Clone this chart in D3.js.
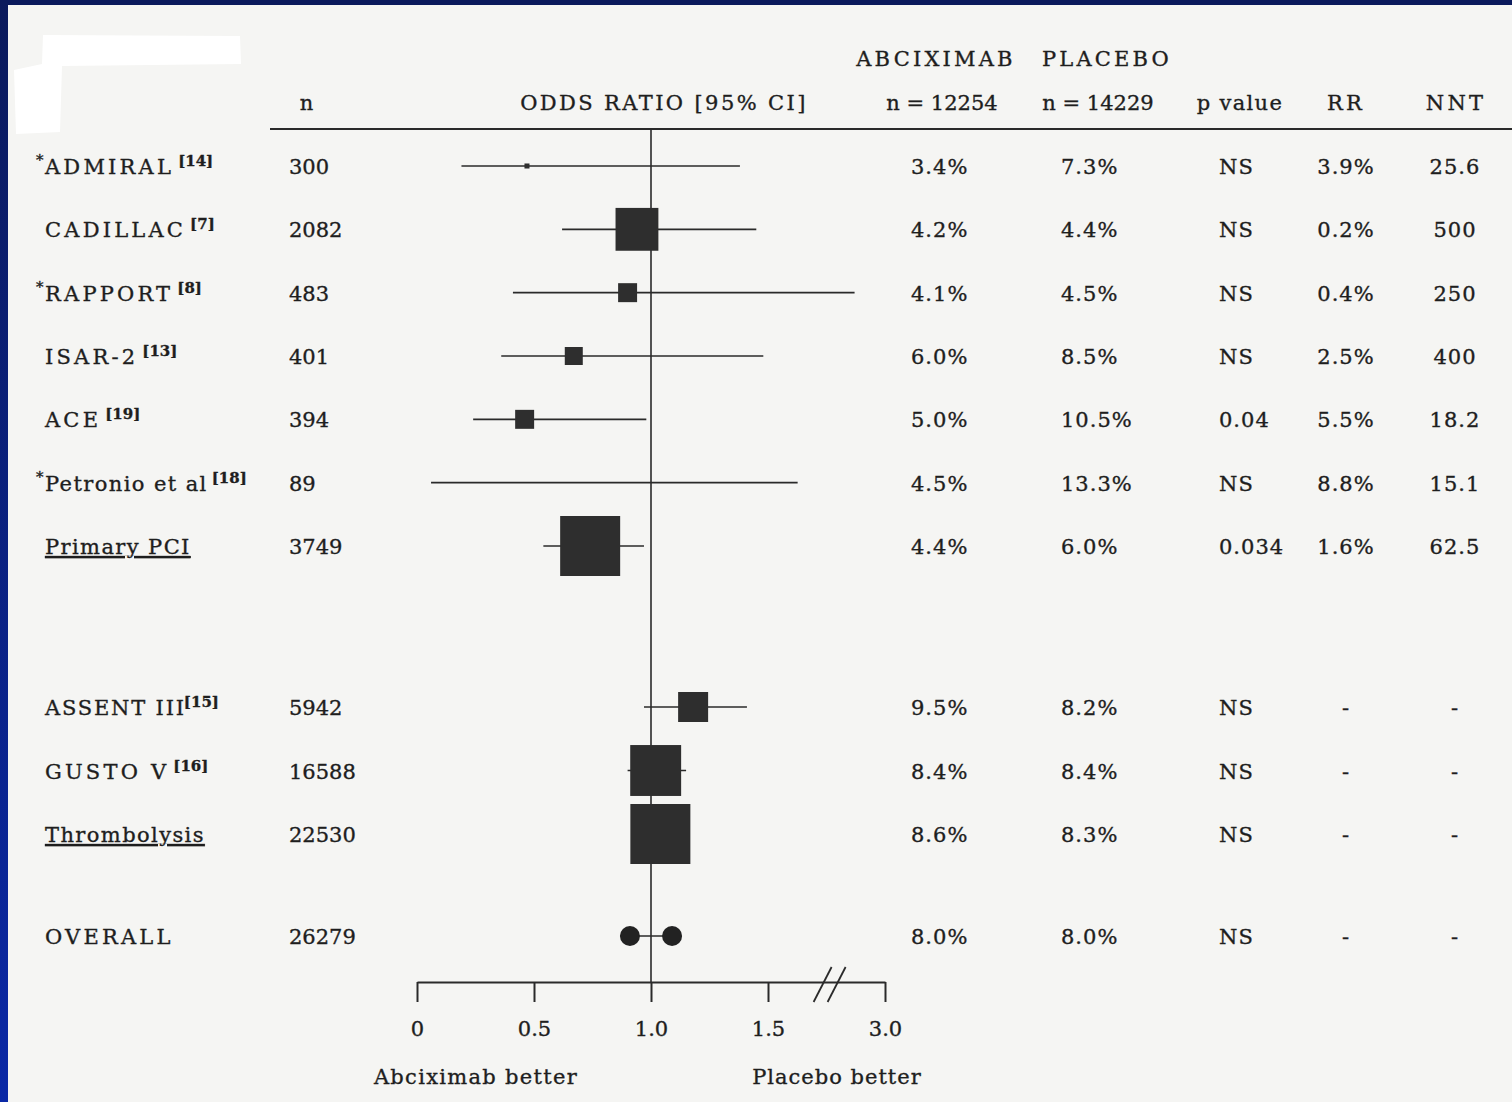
<!DOCTYPE html>
<html>
<head>
<meta charset="utf-8">
<script src="https://cdn.jsdelivr.net/npm/d3@7"></script>
<style>
  html, body { margin: 0; padding: 0; background: #f5f5f3; }
  svg { display: block; }
  text { font-family: "DejaVu Serif", "Liberation Serif", serif; fill: #1e1e1e; stroke: #1e1e1e; stroke-width: 0.35px; }
</style>
</head>
<body>
<svg id="chart" width="1512" height="1102"></svg>
<script>
// trial rows, top to bottom
var trials = ["ADMIRAL", "CADILLAC", "RAPPORT", "ISAR-2", "ACE", "Petronio et al", "Primary PCI",
              "ASSENT III", "GUSTO V", "Thrombolysis", "OVERALL"];
var refs = ["[14]", "[7]", "[8]", "[13]", "[19]", "[18]", "", "[15]", "[16]", "", ""];
var starred = [1, 0, 1, 0, 0, 1, 0, 0, 0, 0, 0];
var pooled = [0, 0, 0, 0, 0, 0, 1, 0, 0, 1, 0];     // underlined subtotal rows
var sampleN = [300, 2082, 483, 401, 394, 89, 3749, 5942, 16588, 22530, 26279];

// odds ratio [95% CI]
var oddsRatio = [0.47, 0.94, 0.90, 0.67, 0.46, null, 0.74, 1.18, 1.02, 1.04, null];
var ciLow  = [0.19, 0.62, 0.41, 0.36, 0.24, 0.06, 0.54, 0.97, 0.90, 0.93, 0.91];
var ciHigh = [1.38, 1.45, 2.61, 1.48, 0.98, 1.88, 0.97, 1.41, 1.15, 1.15, 1.09];
var weight = [0.7, 51, 10, 9, 10, 0, 100, 25, 72, 100, 0];

// table columns
var abcRate = ["3.4%", "4.2%", "4.1%", "6.0%", "5.0%", "4.5%", "4.4%", "9.5%", "8.4%", "8.6%", "8.0%"];
var placeboRate = ["7.3%", "4.4%", "4.5%", "8.5%", "10.5%", "13.3%", "6.0%", "8.2%", "8.4%", "8.3%", "8.0%"];
var pValue = ["NS", "NS", "NS", "NS", "0.04", "NS", "0.034", "NS", "NS", "NS", "NS"];
var rr = ["3.9%", "0.2%", "0.4%", "2.5%", "5.5%", "8.8%", "1.6%", "-", "-", "-", "-"];
var nnt = ["25.6", "500", "250", "400", "18.2", "15.1", "62.5", "-", "-", "-", "-"];

var tickValues = [0, 0.5, 1, 1.5, 3];
var tickLabels = ["0", "0.5", "1.0", "1.5", "3.0"];

var svg = d3.select("#chart");
var W = +svg.attr("width"), H = +svg.attr("height");

// frame: dark blue top and left edge
var defs = svg.append("defs");
var grad = defs.append("linearGradient").attr("id", "edge")
    .attr("x1", 0).attr("y1", 0).attr("x2", 0).attr("y2", 1);
grad.append("stop").attr("offset", "0%").attr("stop-color", "#0b1a5c");
grad.append("stop").attr("offset", "100%").attr("stop-color", "#0a28a6");
svg.append("rect").attr("x", 0).attr("y", 0).attr("width", W).attr("height", 5).attr("fill", "#0b1a5c");
svg.append("rect").attr("x", 0).attr("y", 0).attr("width", 8).attr("height", H).attr("fill", "url(#edge)");

// blanked-out patch at top left
svg.append("path")
    .attr("d", "M43,35 L240,36 L241,64 L62,66 L60,132 L16,134 L14,70 L42,64 Z")
    .attr("fill", "#ffffff");

// scales
var x = d3.scaleLinear().domain([0, 1.5, 3]).range([417, 768, 885]);
var rowsA = trials.slice(0, 7), rowsB = trials.slice(7, 10);
var yA = d3.scalePoint().domain(rowsA).range([166, 546]);
var yB = d3.scalePoint().domain(rowsB).range([707, 834]);
var y = function(name) {
    if (yA(name) !== undefined) return yA(name);
    if (yB(name) !== undefined) return yB(name);
    return 936; // overall row
};
var boxSize = d3.scaleSqrt().domain([0, 100]).range([0, 60]);

var axisY = 982, headLine = 129;
var rows = trials.map(function(t, i) { return {i: i, name: t, y: y(t)}; });

var labelSpacing = function(s) {
    if (s !== s.toUpperCase()) return "1.4px";
    return s.indexOf("III") >= 0 ? "1.8px" : "3.2px";
};

// header
var head = svg.append("g").style("font-size", "21px");
var headers = [
    {t: "ABCIXIMAB", x: 936, y: 66}, {t: "PLACEBO", x: 1107, y: 66},
    {t: "n", x: 308, y: 110}, {t: "ODDS RATIO [95% CI]", x: 664, y: 110},
    {t: "n = 12254", x: 942, y: 110}, {t: "n = 14229", x: 1098, y: 110},
    {t: "p value", x: 1240, y: 110}, {t: "RR", x: 1346, y: 110}, {t: "NNT", x: 1456, y: 110}
];
head.selectAll("text").data(headers).enter().append("text")
    .attr("x", function(d) { return d.x; }).attr("y", function(d) { return d.y; })
    .attr("text-anchor", "middle")
    .style("letter-spacing", function(d) {
        if (d.t.indexOf("n =") === 0) return "0px";
        if (d.t === "p value") return "1.3px";
        return d.t.indexOf("ODDS") === 0 ? "2.4px" : "3.2px";
    })
    .text(function(d) { return d.t; });

svg.append("line").attr("x1", 270).attr("x2", W).attr("y1", headLine).attr("y2", headLine)
    .attr("stroke", "#2a2a2a").attr("stroke-width", 2);

// reference line at OR = 1
svg.append("line").attr("x1", x(1)).attr("x2", x(1)).attr("y1", headLine).attr("y2", axisY)
    .attr("stroke", "#2a2a2a").attr("stroke-width", 1.6);

// row labels
var lab = svg.append("g").style("font-size", "21px");
rows.forEach(function(r) {
    var t = lab.append("text").attr("x", 45).attr("y", r.y + 8)
        .style("letter-spacing", labelSpacing(r.name));
    if (starred[r.i]) {
        lab.append("text").attr("x", 36).attr("y", r.y - 1).style("font-size", "15px").text("*");
    }
    t.append("tspan").text(r.name)
        .style("text-decoration", pooled[r.i] ? "underline" : null);
    if (refs[r.i]) {
        t.append("tspan").attr("dx", r.name === "ASSENT III" ? -2 : 4).attr("dy", -8)
            .style("font-size", "15px").style("font-weight", "bold").style("letter-spacing", "0px")
            .text(refs[r.i]);
    }
});

// table columns
var tbl = svg.append("g").style("font-size", "21px").style("letter-spacing", "1px");
tbl.selectAll(".n").data(rows).enter().append("text")
    .attr("x", 289).attr("y", function(d) { return d.y + 8; })
    .style("letter-spacing", "0px")
    .text(function(d) { return sampleN[d.i]; });
tbl.selectAll(".abc").data(rows).enter().append("text")
    .attr("x", 911).attr("y", function(d) { return d.y + 8; })
    .text(function(d) { return abcRate[d.i]; });
tbl.selectAll(".pla").data(rows).enter().append("text")
    .attr("x", 1061).attr("y", function(d) { return d.y + 8; })
    .text(function(d) { return placeboRate[d.i]; });
tbl.selectAll(".pv").data(rows).enter().append("text")
    .attr("x", 1219).attr("y", function(d) { return d.y + 8; })
    .text(function(d) { return pValue[d.i]; });
tbl.selectAll(".rr").data(rows).enter().append("text")
    .attr("x", 1346).attr("y", function(d) { return d.y + 8; }).attr("text-anchor", "middle")
    .text(function(d) { return rr[d.i]; });
tbl.selectAll(".nnt").data(rows).enter().append("text")
    .attr("x", 1455).attr("y", function(d) { return d.y + 8; }).attr("text-anchor", "middle")
    .text(function(d) { return nnt[d.i]; });

// confidence intervals
var plot = svg.append("g");
plot.selectAll(".ci").data(rows).enter().append("line")
    .attr("x1", function(d) { return x(ciLow[d.i]); })
    .attr("x2", function(d) { return x(ciHigh[d.i]); })
    .attr("y1", function(d) { return d.y; })
    .attr("y2", function(d) { return d.y; })
    .attr("stroke", "#2a2a2a").attr("stroke-width", 1.6);

// point estimates, sized by weight
plot.selectAll(".box").data(rows.filter(function(d) { return oddsRatio[d.i] !== null; }))
    .enter().append("rect")
    .attr("x", function(d) { return x(oddsRatio[d.i]) - boxSize(weight[d.i]) / 2; })
    .attr("y", function(d) { return d.y - boxSize(weight[d.i]) / 2; })
    .attr("width", function(d) { return boxSize(weight[d.i]); })
    .attr("height", function(d) { return boxSize(weight[d.i]); })
    .attr("fill", "#2e2e2e");

// overall: CI ends as dots
var ov = rows[rows.length - 1];
[ciLow[ov.i], ciHigh[ov.i]].forEach(function(v) {
    plot.append("circle").attr("cx", x(v)).attr("cy", ov.y).attr("r", 10).attr("fill", "#222");
});

// x axis
var axis = d3.axisBottom(x).tickValues(tickValues)
    .tickFormat(function(d, i) { return tickLabels[i]; })
    .tickSize(20).tickSizeOuter(0).tickPadding(19);
var ax = svg.append("g").attr("transform", "translate(0," + axisY + ")").call(axis);
ax.select(".domain").attr("stroke", "#2a2a2a").attr("stroke-width", 2);
ax.selectAll(".tick line").attr("stroke", "#2a2a2a").attr("stroke-width", 2);
ax.selectAll(".tick text").attr("fill", "#1e1e1e")
    .style("font-family", "\"DejaVu Serif\", serif").style("font-size", "21px");

// axis break marks between 1.5 and 3.0
[x(2.2), x(2.2) + 14].forEach(function(cx) {
    svg.append("line").attr("x1", cx - 9).attr("y1", axisY + 20).attr("x2", cx + 9).attr("y2", axisY - 15)
        .attr("stroke", "#2a2a2a").attr("stroke-width", 1.8);
});

// favours labels
svg.append("text").attr("x", 476).attr("y", 1084).attr("text-anchor", "middle")
    .style("font-size", "21px").style("letter-spacing", "1.3px").text("Abciximab better");
svg.append("text").attr("x", 837).attr("y", 1084).attr("text-anchor", "middle")
    .style("font-size", "21px").style("letter-spacing", "1px").text("Placebo better");
</script>
</body>
</html>
